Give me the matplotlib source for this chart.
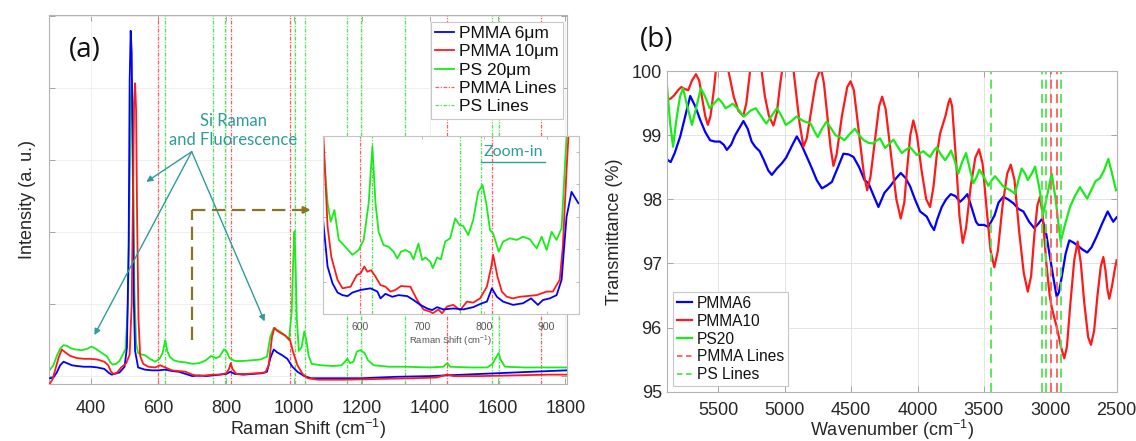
import matplotlib
matplotlib.use("Agg")
import matplotlib.pyplot as plt
import numpy as np

plt.rcParams['font.family'] = ['Liberation Sans', 'DejaVu Sans']
plt.rcParams['mathtext.fontset'] = 'custom'
plt.rcParams['mathtext.rm'] = 'Liberation Sans'
plt.rcParams['mathtext.it'] = 'Liberation Sans:italic'

# ---------------- Panel (a): Raman ----------------
a_blue_x = [280, 290, 300, 310, 320, 330, 345, 360, 380, 400, 420, 440, 455, 462, 470, 485, 500, 507, 512, 515, 518, 521, 524, 527, 531, 540, 560, 580, 600, 620, 640, 660, 680, 700, 720, 740, 760, 780, 800, 812, 825, 850, 880, 905, 920, 930, 940, 950, 965, 980, 995, 1010, 1030, 1050, 1100, 1200, 1300, 1400, 1500, 1600, 1700, 1805]
a_blue_y = [-0.03, -0.02, 0.05, 0.15, 0.20, 0.18, 0.15, 0.14, 0.13, 0.13, 0.12, 0.10, 0.04, 0.02, 0.03, 0.05, 0.13, 0.4, 1.8, 4.1, 4.80, 4.5, 3.0, 1.1, 0.35, 0.12, 0.09, 0.08, 0.08, 0.09, 0.07, 0.06, 0.03, 0.0, 0.01, 0.0, 0.01, 0.02, 0.03, 0.06, 0.03, 0.02, 0.03, 0.04, 0.06, 0.25, 0.37, 0.33, 0.29, 0.24, 0.13, 0.06, 0.0, -0.03, -0.03, -0.03, -0.01, 0.0, 0.02, 0.04, 0.06, 0.08]

a_red_x = [280, 287, 295, 305, 315, 325, 340, 360, 380, 400, 420, 440, 452, 460, 468, 478, 490, 505, 515, 521, 525, 528, 531, 534, 537, 541, 546, 555, 570, 590, 605, 620, 640, 660, 680, 700, 720, 740, 760, 780, 800, 808, 813, 818, 830, 860, 890, 915, 925, 935, 942, 950, 960, 975, 988, 998, 1010, 1025, 1040, 1070, 1150, 1250, 1350, 1420, 1450, 1470, 1550, 1650, 1750, 1805]
a_red_y = [-0.10, -0.05, 0.08, 0.25, 0.37, 0.33, 0.28, 0.25, 0.24, 0.24, 0.23, 0.20, 0.15, 0.06, 0.03, 0.05, 0.12, 0.18, 0.3, 1.0, 2.6, 3.8, 4.07, 3.7, 2.2, 0.8, 0.28, 0.17, 0.13, 0.12, 0.15, 0.12, 0.08, 0.07, 0.06, 0.02, 0.0, 0.01, 0.02, 0.02, 0.04, 0.10, 0.18, 0.10, 0.03, 0.03, 0.04, 0.05, 0.15, 0.55, 0.67, 0.63, 0.60, 0.56, 0.50, 0.32, 0.15, 0.03, -0.03, -0.05, -0.05, -0.04, -0.03, -0.02, 0.02, 0.0, 0.0, 0.01, 0.02, 0.02]

a_green_x = [280, 290, 300, 310, 320, 330, 340, 355, 373, 390, 403, 415, 427, 440, 449, 458, 465, 475, 485, 495, 503, 510, 515, 519, 522, 525, 529, 534, 540, 550, 560, 575, 590, 603, 612, 620, 626, 633, 645, 660, 680, 700, 720, 740, 755, 770, 780, 793, 800, 810, 825, 850, 875, 900, 920, 930, 940, 955, 970, 985, 993, 998, 1001, 1004, 1008, 1014, 1022, 1030, 1036, 1043, 1052, 1080, 1115, 1140, 1150, 1157, 1165, 1175, 1185, 1195, 1208, 1218, 1235, 1280, 1330, 1400, 1440, 1452, 1460, 1520, 1570, 1585, 1596, 1603, 1610, 1622, 1680, 1750, 1805]
a_green_y = [0.09, 0.15, 0.28, 0.38, 0.43, 0.42, 0.39, 0.37, 0.36, 0.38, 0.41, 0.38, 0.34, 0.30, 0.27, 0.19, 0.16, 0.17, 0.21, 0.30, 0.38, 1.0, 2.6, 3.9, 4.12, 3.3, 1.2, 0.45, 0.32, 0.30, 0.29, 0.24, 0.20, 0.24, 0.32, 0.50, 0.35, 0.27, 0.22, 0.20, 0.19, 0.17, 0.18, 0.22, 0.28, 0.25, 0.27, 0.37, 0.35, 0.25, 0.21, 0.21, 0.22, 0.23, 0.27, 0.55, 0.67, 0.63, 0.58, 0.50, 0.9, 1.7, 2.01, 1.6, 0.8, 0.35, 0.40, 0.62, 0.50, 0.28, 0.17, 0.15, 0.14, 0.15, 0.20, 0.24, 0.18, 0.20, 0.34, 0.36, 0.32, 0.22, 0.15, 0.13, 0.13, 0.12, 0.13, 0.18, 0.13, 0.12, 0.12, 0.17, 0.26, 0.32, 0.22, 0.13, 0.12, 0.12, 0.12]

pmma_lines_a = [600, 813, 989, 1450, 1729]
ps_lines_a = [619, 761, 795, 1002, 1032, 1156, 1196, 1328, 1583, 1603]

# inset (zoom-in) data
in_blue_x = [541, 548, 556, 564, 572, 580, 588, 601, 617, 628, 633, 641, 652, 662, 676, 686, 697, 708, 716, 724, 734, 750, 766, 782, 796, 804, 812, 820, 830, 846, 862, 875, 886, 894, 905, 916, 924, 932, 940, 951]
in_blue_y = [2.85, 1.47, 0.95, 0.67, 0.59, 0.56, 0.67, 0.75, 0.80, 0.70, 0.49, 0.63, 0.54, 0.59, 0.56, 0.44, 0.29, 0.18, 0.13, 0.22, 0.15, 0.18, 0.15, 0.22, 0.34, 0.39, 0.80, 0.54, 0.39, 0.29, 0.34, 0.49, 0.29, 0.44, 0.49, 0.59, 1.06, 3.0, 3.77, 3.42]
in_red_x = [541, 548, 554, 564, 572, 585, 595, 601, 607, 612, 618, 625, 633, 641, 649, 657, 666, 681, 692, 702, 713, 717, 726, 732, 740, 750, 761, 772, 782, 793, 804, 811, 814, 821, 828, 836, 846, 857, 868, 884, 900, 910, 921, 926, 932, 936]
in_red_y = [5.6, 2.7, 1.77, 1.06, 0.80, 0.85, 1.21, 1.26, 1.47, 1.31, 1.36, 1.16, 0.90, 0.85, 0.70, 0.75, 0.87, 0.85, 0.44, 0.15, 0.08, 0.03, 0.15, 0.03, 0.24, 0.29, 0.13, 0.39, 0.36, 0.49, 0.85, 1.47, 1.83, 1.16, 0.70, 0.54, 0.49, 0.54, 0.56, 0.59, 0.70, 0.70, 1.06, 2.08, 4.44, 5.8]
in_green_x = [541, 548, 553, 559, 566, 574, 588, 598, 606, 614, 620, 625, 630, 638, 646, 654, 660, 666, 673, 681, 686, 694, 700, 705, 713, 717, 724, 730, 737, 745, 753, 760, 766, 774, 782, 790, 797, 803, 809, 814, 823, 830, 841, 852, 862, 873, 884, 892, 900, 908, 916, 924, 929, 933]
in_green_y = [5.16, 3.42, 2.85, 3.21, 2.29, 2.13, 1.83, 1.98, 2.29, 3.42, 5.16, 3.42, 2.54, 2.13, 2.08, 1.93, 1.72, 1.93, 1.98, 1.90, 1.69, 2.18, 1.67, 1.75, 1.62, 1.42, 1.75, 1.69, 2.24, 2.34, 2.95, 2.75, 2.72, 2.44, 2.90, 3.77, 3.98, 3.42, 2.59, 2.49, 1.93, 2.24, 2.34, 2.29, 2.39, 2.31, 2.03, 2.39, 1.98, 2.54, 2.29, 2.65, 4.44, 5.8]

# ---------------- Panel (b): FTIR ----------------
b_blue_w = [5887, 5860, 5830, 5788, 5750, 5713, 5675, 5638, 5600, 5563, 5527, 5490, 5460, 5437, 5405, 5374, 5340, 5312, 5280, 5250, 5224, 5190, 5160, 5125, 5098, 5060, 5023, 4990, 4950, 4910, 4875, 4834, 4800, 4760, 4721, 4680, 4646, 4600, 4559, 4520, 4483, 4440, 4400, 4370, 4330, 4295, 4250, 4208, 4165, 4127, 4090, 4056, 4020, 3981, 3931, 3900, 3876, 3850, 3818, 3785, 3750, 3715, 3680, 3650, 3625, 3590, 3560, 3542, 3500, 3467, 3420, 3390, 3354, 3320, 3279, 3240, 3203, 3160, 3121, 3090, 3061, 3030, 3003, 2975, 2952, 2935, 2914, 2885, 2857, 2830, 2801, 2760, 2722, 2690, 2651, 2610, 2568, 2545, 2526, 2500]
b_blue_t = [98.62, 98.58, 98.72, 98.98, 99.3, 99.61, 99.45, 99.24, 99.05, 98.92, 98.90, 98.90, 98.85, 98.77, 98.85, 99.0, 99.12, 99.22, 99.1, 98.9, 98.82, 98.75, 98.62, 98.45, 98.38, 98.48, 98.56, 98.65, 98.82, 98.98, 98.85, 98.66, 98.5, 98.3, 98.17, 98.22, 98.27, 98.5, 98.71, 98.7, 98.66, 98.5, 98.3, 98.25, 98.05, 97.88, 98.1, 98.2, 98.32, 98.41, 98.33, 98.20, 98.0, 97.81, 97.73, 97.6, 97.52, 97.7, 97.88, 98.0, 98.08, 98.05, 97.96, 98.02, 98.08, 97.85, 97.65, 97.60, 97.6, 97.57, 97.75, 97.95, 98.04, 98.0, 97.94, 97.85, 97.81, 97.65, 97.55, 97.62, 97.70, 97.45, 97.10, 96.75, 96.48, 96.55, 96.79, 97.15, 97.36, 97.33, 97.29, 97.22, 97.17, 97.25, 97.42, 97.62, 97.81, 97.72, 97.65, 97.72]

b_red_w = [5887, 5860, 5834, 5805, 5780, 5755, 5728, 5700, 5670, 5645, 5625, 5600, 5580, 5560, 5535, 5510, 5487, 5455, 5420, 5385, 5350, 5313, 5290, 5265, 5245, 5225, 5200, 5175, 5150, 5120, 5086, 5060, 5035, 5000, 4966, 4945, 4920, 4890, 4860, 4835, 4800, 4765, 4728, 4705, 4680, 4655, 4634, 4610, 4570, 4530, 4505, 4480, 4440, 4405, 4380, 4355, 4320, 4290, 4267, 4240, 4195, 4160, 4127, 4100, 4080, 4055, 4032, 4005, 3970, 3935, 3906, 3880, 3855, 3830, 3790, 3768, 3755, 3740, 3710, 3685, 3660, 3635, 3600, 3565, 3537, 3510, 3480, 3450, 3422, 3395, 3360, 3325, 3298, 3270, 3235, 3200, 3170, 3145, 3120, 3098, 3078, 3060, 3030, 3005, 2990, 2970, 2952, 2935, 2920, 2895, 2875, 2850, 2820, 2794, 2770, 2745, 2715, 2694, 2670, 2645, 2620, 2601, 2585, 2570, 2556, 2535, 2515, 2500]
b_red_t = [99.55, 99.57, 99.62, 99.70, 99.75, 99.72, 99.70, 99.85, 99.95, 99.85, 99.6, 99.3, 99.16, 99.3, 99.7, 100.2, 100.45, 100.3, 99.95, 99.6, 99.38, 99.30, 99.5, 99.95, 100.3, 100.5, 100.35, 100.0, 99.6, 99.3, 99.15, 99.35, 99.8, 100.3, 100.45, 100.2, 99.75, 99.2, 98.82, 98.95, 99.4, 99.85, 100.05, 99.8, 99.3, 98.8, 98.52, 98.7, 99.3, 99.75, 99.84, 99.7, 99.0, 98.4, 98.14, 98.35, 98.95, 99.45, 99.6, 99.4, 98.6, 98.0, 97.70, 97.95, 98.45, 99.0, 99.23, 99.0, 98.45, 98.0, 97.88, 98.2, 98.7, 99.03, 99.3, 99.5, 99.57, 99.45, 98.6, 97.75, 97.32, 97.55, 98.2, 98.65, 98.78, 98.55, 97.85, 97.2, 96.94, 97.2, 97.9, 98.4, 98.54, 98.3, 97.5, 96.85, 96.56, 96.8, 97.45, 97.9, 98.04, 97.8, 97.0, 96.5, 96.32, 96.15, 96.01, 95.85, 95.7, 95.52, 95.7, 96.35, 97.05, 97.34, 97.0, 96.4, 95.85, 95.73, 95.95, 96.5, 96.95, 97.1, 96.9, 96.6, 96.45, 96.65, 96.9, 97.05]

b_green_w = [5887, 5865, 5842, 5820, 5790, 5767, 5735, 5700, 5665, 5633, 5600, 5567, 5530, 5500, 5470, 5447, 5420, 5393, 5350, 5308, 5260, 5220, 5180, 5140, 5100, 5060, 5025, 4993, 4950, 4913, 4860, 4806, 4775, 4752, 4720, 4686, 4650, 4619, 4585, 4552, 4510, 4472, 4440, 4405, 4370, 4338, 4305, 4283, 4245, 4215, 4182, 4150, 4119, 4090, 4056, 4030, 4006, 3980, 3956, 3930, 3906, 3880, 3856, 3825, 3793, 3770, 3748, 3720, 3693, 3665, 3635, 3610, 3580, 3555, 3535, 3500, 3467, 3440, 3416, 3385, 3354, 3310, 3266, 3240, 3216, 3190, 3170, 3140, 3115, 3085, 3053, 3020, 2990, 2960, 2935, 2922, 2890, 2852, 2815, 2777, 2750, 2722, 2690, 2660, 2626, 2595, 2563, 2535, 2505]
b_green_t = [99.75, 99.2, 98.82, 99.2, 99.6, 99.73, 99.45, 99.16, 99.45, 99.73, 99.6, 99.42, 99.5, 99.57, 99.5, 99.42, 99.45, 99.49, 99.4, 99.29, 99.38, 99.42, 99.3, 99.18, 99.3, 99.42, 99.3, 99.16, 99.22, 99.29, 99.22, 99.18, 99.05, 98.97, 99.1, 99.21, 99.1, 99.0, 98.97, 98.92, 99.02, 99.10, 99.0, 98.92, 98.88, 98.87, 98.92, 98.95, 98.80, 98.86, 98.93, 98.82, 98.72, 98.77, 98.81, 98.75, 98.69, 98.72, 98.75, 98.7, 98.66, 98.75, 98.81, 98.7, 98.61, 98.68, 98.76, 98.6, 98.40, 98.58, 98.72, 98.5, 98.25, 98.35, 98.46, 98.35, 98.21, 98.3, 98.36, 98.28, 98.20, 98.15, 98.09, 98.3, 98.48, 98.4, 98.30, 98.4, 98.51, 98.2, 97.78, 98.1, 98.40, 98.0, 97.55, 97.34, 97.6, 97.88, 98.05, 98.19, 98.1, 98.01, 98.15, 98.28, 98.33, 98.45, 98.63, 98.4, 98.14]

pmma_lines_b = [2997, 2953]
ps_lines_b = [3448, 3063, 3033, 2921]

b_xticks = [5500, 5000, 4500, 4000, 3500, 3000, 2500]
b_yticks = [95, 96, 97, 98, 99, 100]
a_xticks = [400, 600, 800, 1000, 1200, 1400, 1600, 1800]
in_xticks = [600, 700, 800, 900]

BLUE = '#0000ff'
RED = '#ff1a1a'
GREEN = '#1aeb1a'
PMMA_C = '#ff5c5c'
PS_C = '#4ee64e'
TEAL = '#2f9c9a'
BROWN = '#8a7426'
SPINE = '#b4b4b4'
TXT = '#262626'

W, H = 1136, 441
fig = plt.figure(figsize=(W / 100, H / 100), dpi=100)


def px(l, t, r, b):
    return [l / W, 1 - b / H, (r - l) / W, (b - t) / H]


def style_axes(ax, fs=13):
    for s in ax.spines.values():
        s.set_color(SPINE)
        s.set_linewidth(0.8)
    ax.tick_params(direction='in', length=4, width=0.6, color='#9a9a9a',
                   labelsize=fs, labelcolor=TXT, top=True, right=True)


# ---- panel a
axa = fig.add_axes(px(49.3, 15, 566.7, 384))
style_axes(axa)
axa.tick_params(axis='x', pad=11.5)
axa.set_xlim(278, 1804)
axa.set_ylim(-0.11, 5.02)
axa.set_xticks(a_xticks)
axa.set_yticks([0, 1, 2, 3, 4, 5])
axa.set_yticklabels([])
axa.grid(True, color='#ececec', lw=0.6)
axa.set_axisbelow(True)
dash_dot = (0, (3, 1.2, 1, 1.2))
for v in pmma_lines_a:
    axa.axvline(v, color=PMMA_C, lw=0.9, ls=dash_dot, zorder=1)
for v in ps_lines_a:
    axa.axvline(v, color=PS_C, lw=0.9, ls=dash_dot, zorder=1)
axa.plot(a_blue_x, a_blue_y, color=BLUE, lw=1.3, label='PMMA 6\u03bcm', zorder=3)
axa.plot(a_red_x, a_red_y, color=RED, lw=1.3, label='PMMA 10\u03bcm', zorder=3)
axa.plot(a_green_x, a_green_y, color=GREEN, lw=1.3, label='PS 20\u03bcm', zorder=2.5)
axa.plot([], [], color=PMMA_C, lw=0.9, ls=dash_dot, label='PMMA Lines')
axa.plot([], [], color=PS_C, lw=0.9, ls=dash_dot, label='PS Lines')
axa.set_xlabel('Raman Shift (cm$^{-1}$)', fontsize=13, color=TXT, labelpad=0)
axa.set_ylabel('Intensity (a. u.)', fontsize=13, color=TXT, labelpad=6)
leg = axa.legend(loc='upper right', bbox_to_anchor=(0.9934, 0.9818), fontsize=12.5,
                 frameon=True, fancybox=False, edgecolor='#c8c8c8', framealpha=1,
                 handlelength=1.1, handletextpad=0.3, labelspacing=0.18,
                 borderpad=0.25, borderaxespad=0)
leg.get_frame().set_linewidth(0.8)
for t in leg.get_texts():
    t.set_color('#111111')
leg.set_zorder(5)
axa.text(0.037, 0.905, '(a)', transform=axa.transAxes, fontsize=20, color='#111111',
         ha='left', va='center', family=['Open Sans', 'DejaVu Sans'])

# annotations
axa.text(820, 3.41, 'Si Raman\nand Fluorescence', color=TEAL, fontsize=12,
         ha='center', va='center', linespacing=1.25, family=['Lato', 'DejaVu Sans'])
origin = (698, 3.12)
for tgt in [(564, 2.70), (411, 0.57), (913, 0.76)]:
    axa.annotate('', xy=tgt, xytext=origin,
                 arrowprops=dict(arrowstyle='-|>', color=TEAL, lw=1.0,
                                 mutation_scale=9, shrinkA=0, shrinkB=0), zorder=6)
axa.plot([700, 700], [0.50, 2.31], color=BROWN, lw=1.6, ls=(0, (6, 3)), zorder=6)
axa.plot([700, 1030], [2.31, 2.31], color=BROWN, lw=1.6, ls=(0, (6, 3)), zorder=6)
axa.annotate('', xy=(1049, 2.31), xytext=(1020, 2.31),
             arrowprops=dict(arrowstyle='-|>', color=BROWN, lw=1.6,
                             mutation_scale=10, shrinkA=0, shrinkB=0), zorder=6)

# ---- inset
axi = fig.add_axes(px(322.6, 136, 579, 314.3))
axi.set_zorder(4)
for s in axi.spines.values():
    s.set_color('#c4c4c4')
    s.set_linewidth(0.8)
axi.tick_params(direction='in', length=2.5, width=0.5, color='#9a9a9a', labelsize=7.5,
                labelcolor='#555555', top=True, right=True, pad=5.5)
axi.set_xlim(540, 952)
axi.set_ylim(0, 5.49)
axi.set_xticks(in_xticks)
axi.set_yticks([0, 1, 2, 3, 4, 5])
axi.set_yticklabels([])
for v in pmma_lines_a:
    if 540 < v < 952:
        axi.axvline(v, color=PMMA_C, lw=0.9, ls=dash_dot, zorder=1)
for v in ps_lines_a:
    if 540 < v < 952:
        axi.axvline(v, color=PS_C, lw=0.9, ls=dash_dot, zorder=1)
axi.plot(in_green_x, in_green_y, color=GREEN, lw=1.3)
axi.plot(in_red_x, in_red_y, color=RED, lw=1.3)
axi.plot(in_blue_x, in_blue_y, color=BLUE, lw=1.3)
axi.set_xlabel('Raman Shift (cm$^{-1}$)', fontsize=6.8, color='#555555', labelpad=1.0)
axi.text(846, 5.0, 'Zoom-in', color=TEAL, fontsize=11.5, ha='center', va='center',
         family=['Lato', 'DejaVu Sans'])
axi.plot([795, 898], [4.68, 4.68], color=TEAL, lw=1.0)

# ---- panel b
axb = fig.add_axes(px(666.7, 71, 1116.7, 391.7))
style_axes(axb)
axb.tick_params(axis='x', pad=7.5)
axb.set_xlim(5890, 2500)
axb.set_ylim(95, 100)
axb.set_xticks(b_xticks)
axb.set_yticks(b_yticks)
axb.grid(True, color='#e4e4e4', lw=0.7)
axb.set_axisbelow(True)
axb.plot(b_blue_w, b_blue_t, color=BLUE, lw=1.6, label='PMMA6', solid_joinstyle='round')
axb.plot(b_red_w, b_red_t, color=RED, lw=1.6, label='PMMA10', solid_joinstyle='round')
axb.plot(b_green_w, b_green_t, color=GREEN, lw=1.6, label='PS20', solid_joinstyle='round')
for v in pmma_lines_b:
    axb.axvline(v, color=PMMA_C, lw=1.3, ls=(0, (5, 3)))
for v in ps_lines_b:
    axb.axvline(v, color=PS_C, lw=1.3, ls=(0, (5, 3)))
axb.plot([], [], color=PMMA_C, lw=1.3, ls=(0, (3, 2)), label='PMMA Lines')
axb.plot([], [], color=PS_C, lw=1.3, ls=(0, (3, 2)), label='PS Lines')
axb.set_xlabel('Wavenumber (cm$^{-1}$)', fontsize=13, color=TXT, labelpad=-1)
axb.set_ylabel('Transmittance (%)', fontsize=13, color=TXT, labelpad=6)
legb = axb.legend(loc='lower left', bbox_to_anchor=(0.0133, 0.0178), fontsize=11.2,
                  frameon=True, fancybox=False, edgecolor='#c8c8c8', framealpha=1,
                  handlelength=1.0, handletextpad=0.3, labelspacing=0.18,
                  borderpad=0.25, borderaxespad=0)
legb.get_frame().set_linewidth(0.8)
for t in legb.get_texts():
    t.set_color('#111111')
fig.text(640 / W, 1 - 40 / H, '(b)', fontsize=20, color='#111111', ha='left', va='center',
         family=['Open Sans', 'DejaVu Sans'])

fig.savefig('out.png', dpi=100, facecolor='white')
